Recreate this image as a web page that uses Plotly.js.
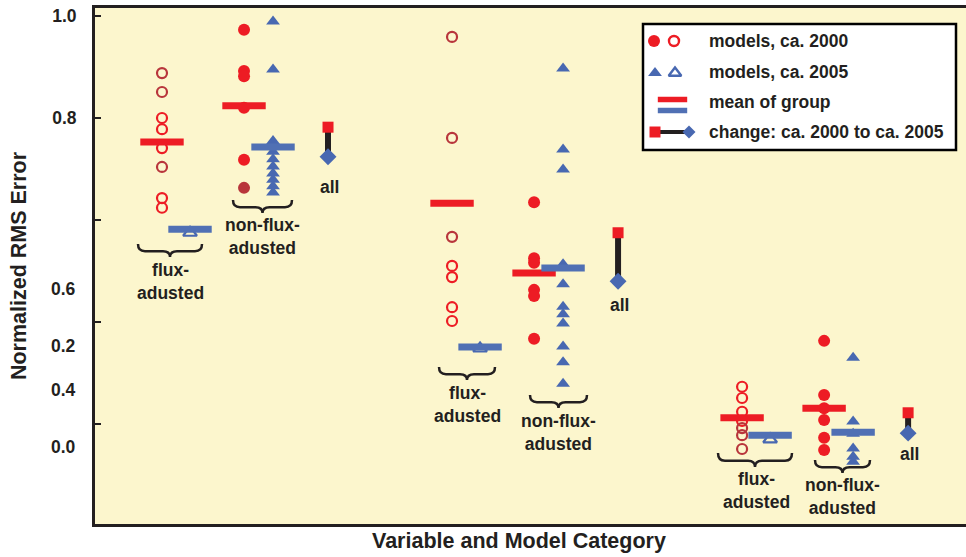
<!DOCTYPE html>
<html>
<head>
<meta charset="utf-8">
<script src="https://cdn.plot.ly/plotly-3.0.1.min.js"></script>
<style>
  html, body { margin: 0; padding: 0; background: #ffffff; }
  #chart { width: 966px; height: 557px; }
</style>
</head>
<body>
<div id="chart"></div>
<script>
// ---- data -------------------------------------------------------------
// Three variables along the category axis
const groupX = [1, 2, 3];

// Normalized RMS error of each model, per variable
const fluxAdj2000 = [
  [0.888, 0.851, 0.800, 0.778, 0.741, 0.704, 0.643, 0.624],
  [0.959, 0.761, 0.567, 0.510, 0.488, 0.429, 0.402],
  [0.273, 0.251, 0.224, 0.206, 0.192, 0.178, 0.151]
];
const fluxAdj2005 = [
  [0.575],
  [0.348],
  [0.170]
];
const nonFlux2000 = [
  [0.973, 0.892, 0.882, 0.820, 0.718, 0.663],
  [0.635, 0.525, 0.516, 0.463, 0.451, 0.367],
  [0.363, 0.257, 0.231, 0.208, 0.173, 0.149]
];
const nonFlux2005 = [
  [0.989, 0.895, 0.755, 0.734, 0.719, 0.705, 0.691, 0.679, 0.666, 0.654],
  [0.897, 0.738, 0.699, 0.513, 0.474, 0.430, 0.415, 0.397, 0.352, 0.321, 0.279],
  [0.330, 0.205, 0.181, 0.152, 0.136, 0.126]
];

// Group means
const meanFlux2000 = [0.753, 0.633, 0.212];
const meanFlux2005 = [0.582, 0.351, 0.178];
const meanNonFlux2000 = [0.824, 0.496, 0.231];
const meanNonFlux2005 = [0.743, 0.506, 0.184];

// All models together, ca. 2000 and ca. 2005
const all2000 = [0.782, 0.575, 0.222];
const all2005 = [0.724, 0.480, 0.182];

// Axis labels
const yTickVals = [0.2, 0.4, 0.6, 0.8, 1.0];
const yTickText = ['', '', '', '0.8', '1.0'];
const yExtraLabelVals = [0.4647, 0.3529, 0.2667, 0.1549];
const yExtraLabelText = ['0.6', '0.2', '0.4', '0.0'];
const subgroupLabels = ['flux-<br>adusted', 'non-flux-<br>adusted'];
const allLabel = 'all';
const legendLabels = ['models, ca. 2000', 'models, ca. 2005', 'mean of group', 'change: ca. 2000 to ca. 2005'];

// ---- styling ----------------------------------------------------------
const RED = '#ed1c24';
const RED_DARK = '#b8353b';
const BLUE = '#4868b1';
const BLUE_BAR = '#5070b4';
const INK = '#231f20';
const FONT = 'Liberation Sans, Arial, Helvetica, sans-serif';

// column offsets inside each variable group
const OFF = { flux2000: 0, flux2005: 0.0966, non2000: 0.2828, non2005: 0.3828, all: 0.5724 };

// rings drawn in the darker red shade
const darkRing = [[0, 1, 5], [0, 1, 2], [4, 5, 6]];
const darkDot = [[5], [], []];

function column(series, offset, shade) {
  const x = [], y = [], c = [];
  series.forEach((vals, g) => {
    vals.forEach((v, i) => {
      x.push(groupX[g] + offset);
      y.push(v);
      if (shade) c.push(shade[g].includes(i) ? RED_DARK : RED);
    });
  });
  return { x, y, c };
}

const traces = [];

const c1 = column(fluxAdj2000, OFF.flux2000, darkRing);
traces.push({
  type: 'scatter', mode: 'markers', x: c1.x, y: c1.y, hoverinfo: 'skip',
  marker: { symbol: 'circle-open', size: 10, opacity: 1, color: c1.c, line: { width: 2.2 } }
});

const c2 = column(nonFlux2000, OFF.non2000, darkDot);
traces.push({
  type: 'scatter', mode: 'markers', x: c2.x, y: c2.y, hoverinfo: 'skip',
  marker: { symbol: 'circle', size: 12, opacity: 1, color: c2.c, line: { width: 0 } }
});

const c3 = column(fluxAdj2005, OFF.flux2005);
traces.push({
  type: 'scatter', mode: 'markers', x: c3.x, y: c3.y, hoverinfo: 'skip',
  marker: { symbol: 'triangle-up-open', size: 12, opacity: 1, color: BLUE, line: { width: 2.2 } }
});

const c4 = column(nonFlux2005, OFF.non2005);
traces.push({
  type: 'scatter', mode: 'markers', x: c4.x, y: c4.y, hoverinfo: 'skip',
  marker: { symbol: 'triangle-up', size: 12, opacity: 1, color: BLUE, line: { width: 0 } }
});

// mean bars
function meanBars(means, offset, color) {
  return {
    type: 'scatter', mode: 'markers', hoverinfo: 'skip',
    x: groupX.map(g => g + offset), y: means,
    marker: { symbol: 'line-ew', size: 31, opacity: 1, line: { width: 7, color } }
  };
}
traces.push(meanBars(meanFlux2000, OFF.flux2000, RED));
traces.push(meanBars(meanNonFlux2000, OFF.non2000, RED));
traces.push(meanBars(meanFlux2005, OFF.flux2005, BLUE_BAR));
traces.push(meanBars(meanNonFlux2005, OFF.non2005, BLUE_BAR));

// change from ca. 2000 to ca. 2005 for all models
groupX.forEach((g, i) => {
  traces.push({
    type: 'scatter', mode: 'lines+markers', hoverinfo: 'skip',
    x: [g + OFF.all, g + OFF.all], y: [all2000[i], all2005[i]],
    line: { color: INK, width: 6 },
    marker: { symbol: ['square', 'diamond'], size: [11, 13], opacity: 1,
              color: [RED, BLUE], line: { width: 0 } }
  });
});

// ---- legend keys (pixel frame on the overlay axes) ----------------------
const key = (x, y, marker, extra) => Object.assign({
  type: 'scatter', mode: 'markers', xaxis: 'x2', yaxis: 'y2', hoverinfo: 'skip', x, y,
  marker: Object.assign({ opacity: 1 }, marker)
}, extra || {});
traces.push(key([654], [41], { symbol: 'circle', size: 12, color: RED }));
traces.push(key([674], [41], { symbol: 'circle-open', size: 10, color: RED, line: { width: 2.4 } }));
traces.push(key([655], [73], { symbol: 'triangle-up', size: 12, color: BLUE }));
traces.push(key([675], [73], { symbol: 'triangle-up-open', size: 11, color: BLUE, line: { width: 2.4 } }));
traces.push(key([672.5], [99.5], { symbol: 'line-ew', size: 21, line: { width: 5.5, color: RED } }));
traces.push(key([672.5], [110.5], { symbol: 'line-ew', size: 21, line: { width: 5.5, color: BLUE_BAR } }));
traces.push(key([655, 689], [132, 132],
  { symbol: ['square', 'diamond'], size: [11, 10], color: [RED, BLUE], line: { width: 0 } },
  { mode: 'lines+markers', line: { color: INK, width: 4 } }));

// ---- annotations ------------------------------------------------------
const textFont = (size) => ({ family: FONT, size, color: INK, weight: 'bold' });
const annotations = [];

// remaining y-axis labels
yExtraLabelVals.forEach((v, i) => {
  annotations.push({
    xref: 'paper', yref: 'y', x: 0, y: v, xanchor: 'right', yanchor: 'middle',
    xshift: -17, showarrow: false, text: yExtraLabelText[i], font: textFont(17.5)
  });
});

// legend text
[41, 72, 102, 132].forEach((y, i) => {
  annotations.push({
    xref: 'x2', yref: 'y2', x: 707, y, xanchor: 'left', yanchor: 'middle',
    showarrow: false, text: legendLabels[i], font: textFont(17.5)
  });
});

// subgroup captions under the braces
const captions = [
  [170, 281, 0], [262, 236, 1],
  [467, 404, 0], [558, 432.5, 1],
  [756, 490.5, 0], [842, 496, 1]
];
captions.forEach(([x, y, k]) => {
  annotations.push({
    xref: 'x2', yref: 'y2', x, y, xanchor: 'center', yanchor: 'middle',
    showarrow: false, text: subgroupLabels[k], font: textFont(17.5)
  });
});

// "all" captions
[[329, 187], [619, 305], [909, 454]].forEach(([x, y]) => {
  annotations.push({
    xref: 'x2', yref: 'y2', x, y, xanchor: 'center', yanchor: 'middle',
    showarrow: false, text: allLabel, font: textFont(17.5)
  });
});

// category-axis title
annotations.push({
  xref: 'paper', yref: 'paper', x: 0.4868, y: -0.033, xanchor: 'center', yanchor: 'middle',
  showarrow: false, text: 'Variable and Model Category', font: textFont(21.5)
});

// ---- braces -----------------------------------------------------------
function brace(x0, x1, yTop, yTip) {
  const xc = (x0 + x1) / 2, ym = yTop + (yTip - yTop) * 0.55, r = 7;
  const d = `M ${x0},${yTop} Q ${x0},${ym} ${x0 + r},${ym} L ${xc - r},${ym} ` +
            `Q ${xc},${ym} ${xc},${yTip} Q ${xc},${ym} ${xc + r},${ym} ` +
            `L ${x1 - r},${ym} Q ${x1},${ym} ${x1},${yTop}`;
  return { type: 'path', xref: 'x2', yref: 'y2', path: d, layer: 'above',
           line: { color: INK, width: 2.5 } };
}
const shapes = [
  { type: 'rect', xref: 'x2', yref: 'y2', x0: 643, x1: 956, y0: 24, y1: 150,
    fillcolor: '#ffffff', line: { color: '#000000', width: 2.5 }, layer: 'below' },
  brace(138, 202, 244, 257), brace(233, 292, 200, 213),
  brace(439, 495, 367, 380), brace(530, 587, 395, 408),
  brace(718, 792, 453, 467), brace(815, 870, 460, 473)
];

const layout = {
  width: 966, height: 557,
  margin: { l: 95, r: 0, t: 8, b: 33, pad: 0 },
  paper_bgcolor: '#ffffff',
  plot_bgcolor: '#fcf6cd',
  showlegend: false,
  font: { family: FONT, color: INK },
  xaxis: {
    range: [0.769, 3.772], showline: true, mirror: true, linecolor: INK, linewidth: 3,
    ticks: '', showticklabels: false, showgrid: false, zeroline: false, fixedrange: true
  },
  yaxis: {
    range: [0.0039, 1.0157], showline: true, mirror: false, linecolor: INK, linewidth: 3,
    ticks: 'inside', ticklen: 6, tickwidth: 2.5, tickcolor: INK,
    tickmode: 'array', tickvals: yTickVals, ticktext: yTickText,
    tickfont: textFont(17.5), ticklabelstandoff: 12,
    showgrid: false, zeroline: false, fixedrange: true,
    title: { text: 'Normalized RMS Error', font: textFont(21.5), standoff: 20 }
  },
  xaxis2: { overlaying: 'x', range: [95, 966], visible: false, fixedrange: true },
  yaxis2: { overlaying: 'y', range: [524, 8], visible: false, fixedrange: true },
  shapes,
  annotations
};

Plotly.newPlot('chart', traces, layout, { displayModeBar: false, staticPlot: true });
</script>
</body>
</html>
